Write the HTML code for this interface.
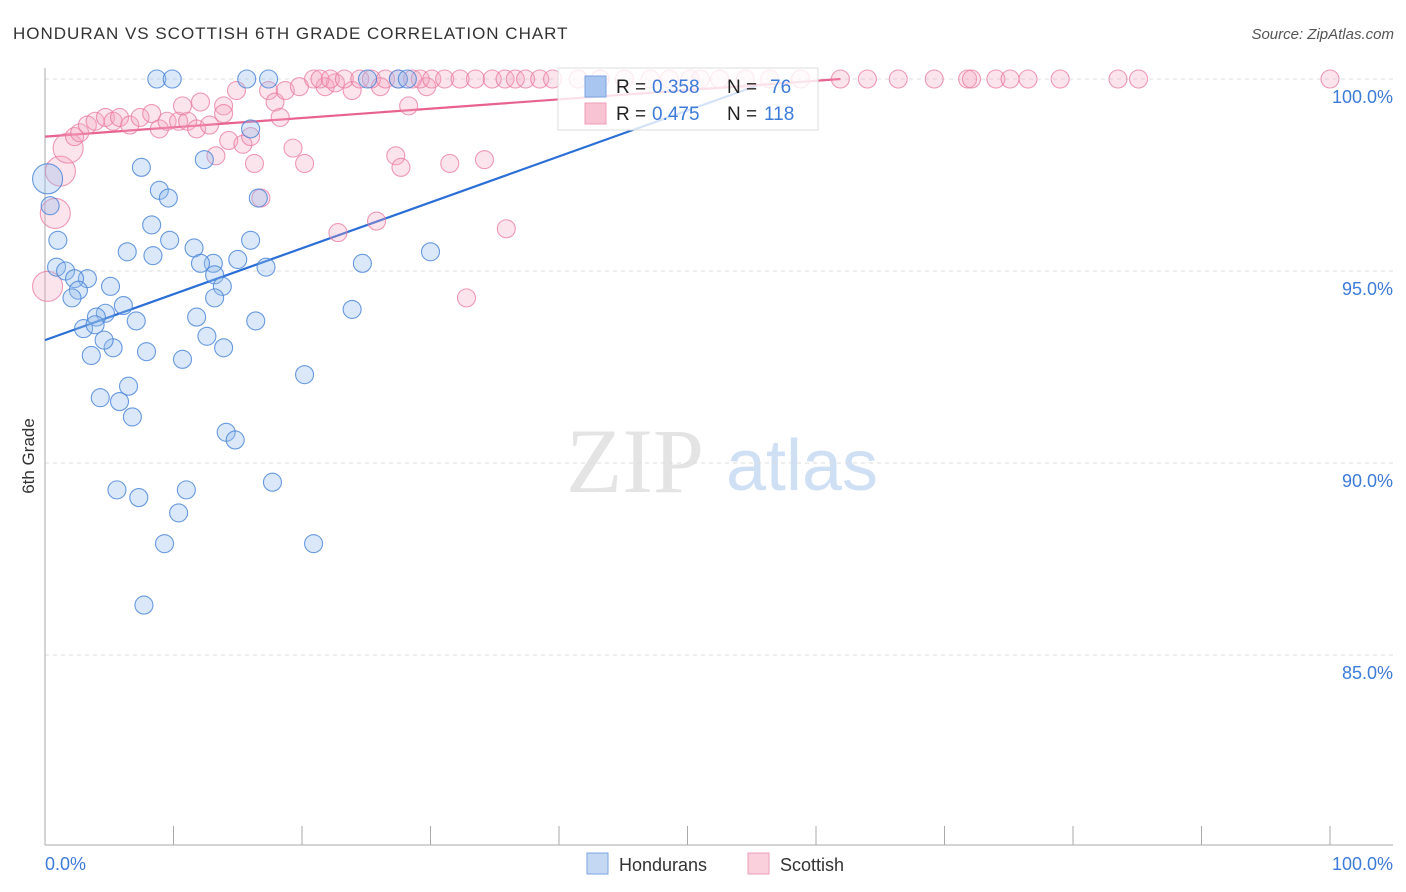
<!DOCTYPE html>
<html><head><meta charset="utf-8"><style>
body{margin:0;background:#fff;font-family:"Liberation Sans",sans-serif;}
svg{display:block}
</style></head><body>
<svg id="chart" width="1406" height="892" viewBox="0 0 1406 892" xmlns="http://www.w3.org/2000/svg">
<text x="13" y="39" font-size="17" letter-spacing="1" fill="#333" font-family="Liberation Sans, sans-serif">HONDURAN VS SCOTTISH 6TH GRADE CORRELATION CHART</text>
<text x="1394" y="39" font-size="15" fill="#555" text-anchor="end" font-style="italic">Source: ZipAtlas.com</text>
<text transform="translate(34,456) rotate(-90)" font-size="17" fill="#333" text-anchor="middle">6th Grade</text>
<g>
<text x="635" y="492" font-size="92" fill="#e4e4e4" text-anchor="middle" font-family="Liberation Serif, serif">ZIP</text>
<text x="802" y="490" font-size="72" fill="#cfe0f4" text-anchor="middle">atlas</text>
</g>
<g id="grid"></g>
<g id="axes"></g>
<g id="lines"></g>
<g id="points"></g>
<g>
<rect x="558" y="68" width="260" height="62" fill="#fff" fill-opacity="0.8" stroke="#ddd"/>
<rect x="585" y="76" width="21" height="21" fill="#a9c6f0" stroke="#7ba3e0"/>
<text x="616" y="93" font-size="19" fill="#222">R =</text>
<text x="652" y="93" font-size="19" fill="#3d7bd9">0.358</text>
<text x="727" y="93" font-size="19" fill="#222">N =</text>
<text x="770" y="93" font-size="19" fill="#3d7bd9">76</text>
<rect x="585" y="103" width="21" height="21" fill="#f8c4d4" stroke="#ef9cb8"/>
<text x="616" y="120" font-size="19" fill="#222">R =</text>
<text x="652" y="120" font-size="19" fill="#3d7bd9">0.475</text>
<text x="727" y="120" font-size="19" fill="#222">N =</text>
<text x="764" y="120" font-size="19" fill="#3d7bd9">118</text>
</g>
<g>
<rect x="587" y="853" width="21" height="21" fill="#c4d8f4" stroke="#7ba3e0"/>
<text x="619" y="871" font-size="18" fill="#333">Hondurans</text>
<rect x="748" y="853" width="21" height="21" fill="#fad0dd" stroke="#ef9cb8"/>
<text x="780" y="871" font-size="18" fill="#333">Scottish</text>
</g>
</svg>
<script>
const yTicks=[100,95,90,85];
const yTickLabels=["100.0%","95.0%","90.0%","85.0%"];
const xTickLabels=["0.0%","100.0%"];
const blueX=[8.7,9.9,15.7,17.4,25.1,27.5,28.2,16.0,7.5,12.4,8.9,9.6,16.6,0.2,0.4,1.0,8.3,9.7,6.4,11.6,16.0,8.4,30.0,24.7,0.9,1.6,3.3,2.3,13.1,12.1,15.0,17.2,13.2,13.8,5.1,2.6,2.1,13.2,6.1,4.7,4.0,7.1,11.8,16.4,23.9,3.0,3.9,5.3,4.6,7.9,3.6,10.7,13.9,12.6,20.2,6.5,4.3,5.8,6.8,14.1,14.8,17.7,5.6,11.0,7.3,10.4,9.3,20.9,7.7];
const blueY=[100,100,100,100,100,100,100,98.7,97.7,97.9,97.1,96.9,96.9,97.4,96.7,95.8,96.2,95.8,95.5,95.6,95.8,95.4,95.5,95.2,95.1,95.0,94.8,94.8,95.2,95.2,95.3,95.1,94.9,94.6,94.6,94.5,94.3,94.3,94.1,93.9,93.8,93.7,93.8,93.7,94.0,93.5,93.6,93.0,93.2,92.9,92.8,92.7,93.0,93.3,92.3,92.0,91.7,91.6,91.2,90.8,90.6,89.5,89.3,89.3,89.1,88.7,87.9,87.9,86.3];
const pinkX=[0.2,0.8,1.2,1.8,2.3,2.7,3.3,3.9,4.7,5.3,5.8,6.6,7.4,8.3,8.9,9.5,10.4,11.1,11.8,12.8,10.7,12.1,13.9,14.9,13.9,14.3,15.4,16.3,13.3,16.0,17.4,17.9,18.3,18.7,19.3,20.2,19.8,21.8,22.6,23.9,22.8,25.8,27.3,27.7,28.3,31.5,34.2,32.8,35.9,29.7,26.1,16.8,
20.9,21.4,22.2,23.3,24.5,25.4,26.5,27.5,28.6,29.2,30.1,31.1,32.3,33.5,34.8,35.8,36.6,37.4,38.5,39.5,41.5,43.2,45.1,47.1,48.6,50.2,51.0,52.5,54.5,56.4,58.8,61.9,64.0,66.4,69.2,71.8,72.1,74.0,75.1,76.5,79.0,83.5,85.1,100];
const pinkY=[94.6,96.5,97.6,98.2,98.5,98.6,98.8,98.9,99.0,98.9,99.0,98.8,99.0,99.1,98.7,98.9,98.9,98.9,98.7,98.8,99.3,99.4,99.3,99.7,99.1,98.4,98.3,97.8,98.0,98.5,99.7,99.4,99.0,99.7,98.2,97.8,99.8,99.8,99.9,99.7,96.0,96.3,98.0,97.7,99.3,97.8,97.9,94.3,96.1,99.8,99.8,96.9,
100,100,100,100,100,100,100,100,100,100,100,100,100,100,100,100,100,100,100,100,100,100,100,100,100,100,100,100,100,100,100,100,100,100,100,100,100,100,100,100,100,100,100,100];
const bigPink=[0,1,2,3];
const bigBlue=[13];
const blueTrend=[[0,93.2],[55.6,99.85]];
const pinkTrend=[[0,98.5],[61.9,100]];
const NS="http://www.w3.org/2000/svg";
const X0=45,X1=1330,YTOP=79,PXPER=38.4;
function sx(v){return X0+(X1-X0)*v/100;}
function sy(v){return YTOP+(100-v)*PXPER;}
function mk(tag,attrs,parent){const e=document.createElementNS(NS,tag);for(const k in attrs)e.setAttribute(k,attrs[k]);parent.appendChild(e);return e;}
const grid=document.getElementById('grid'),axes=document.getElementById('axes'),lines=document.getElementById('lines'),pts=document.getElementById('points');
yTicks.forEach((t,i)=>{
 const l=mk('line',{x1:45,x2:1393,y1:sy(t),y2:sy(t),stroke:'#ddd','stroke-dasharray':'4,4'},grid);
 
 
 const tx=mk('text',{x:1393,y:sy(t)+24,'font-size':18,fill:'#3d7bd9','text-anchor':'end'},grid);
 tx.textContent=yTickLabels[i];
 
 
});
const la=mk('line',{x1:45,x2:45,y1:68,y2:845,stroke:'#aaa'},axes);


const ba=mk('line',{x1:45,x2:1393,y1:845,y2:845,stroke:'#aaa'},axes);


for(let i=0;i<=10;i++){
 const t=mk('line',{x1:sx(i*10),x2:sx(i*10),y1:826,y2:845,stroke:'#aaa'},axes);
 
 
}
const xl0=mk('text',{x:45,y:870,'font-size':18,fill:'#3d7bd9'},axes);xl0.textContent=xTickLabels[0];


const xl1=mk('text',{x:1393,y:870,'font-size':18,fill:'#3d7bd9','text-anchor':'end'},axes);xl1.textContent=xTickLabels[1];


pinkX.forEach((x,i)=>{
 const c=mk('circle',{cx:sx(x),cy:sy(pinkY[i]),r:bigPink.includes(i)?15:9,fill:'rgba(245,165,192,0.3)',stroke:'rgba(232,120,160,0.75)','stroke-width':1.1},pts);
 
 
});
blueX.forEach((x,i)=>{
 const c=mk('circle',{cx:sx(x),cy:sy(blueY[i]),r:bigBlue.includes(i)?15:9,fill:'rgba(150,188,238,0.35)',stroke:'rgba(70,130,215,0.8)','stroke-width':1.1},pts);
 
 
});
const bl=mk('line',{x1:sx(blueTrend[0][0]),y1:sy(blueTrend[0][1]),x2:sx(blueTrend[1][0]),y2:sy(blueTrend[1][1]),stroke:'#2b6fd6','stroke-width':2.2},lines);


const pl=mk('line',{x1:sx(pinkTrend[0][0]),y1:sy(pinkTrend[0][1]),x2:sx(pinkTrend[1][0]),y2:sy(pinkTrend[1][1]),stroke:'#e8628e','stroke-width':2.2},lines);


</script>
</body></html>
